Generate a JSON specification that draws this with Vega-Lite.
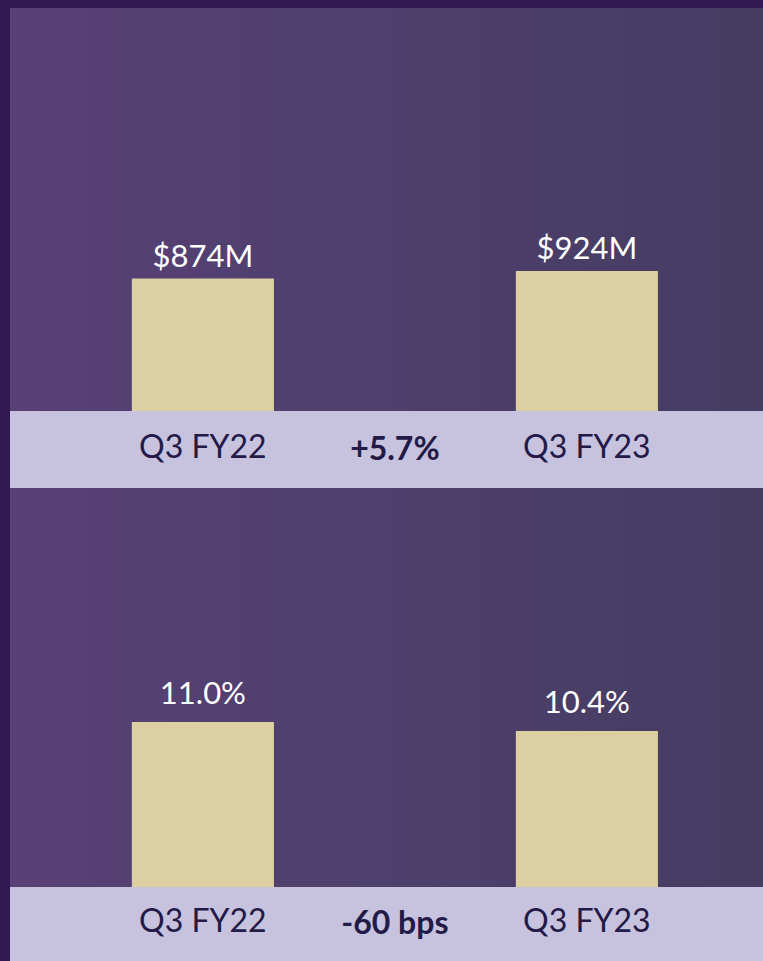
{
  "$schema": "https://vega.github.io/schema/vega-lite/v6.json",
  "background": "#311A53",
  "padding": {"left": 10, "top": 8, "right": 0, "bottom": 0},
  "spacing": 0,
  "config": {
    "view": {
      "stroke": null,
      "fill": {"gradient": "linear", "x1": 0, "y1": 0, "x2": 1, "y2": 0,
        "stops": [
          {"offset": 0, "color": "#594075"},
          {"offset": 0.5, "color": "#4D406C"},
          {"offset": 1, "color": "#463C62"}
        ]}
    },
    "font": "Lato",
    "concat": {"spacing": 0}
  },
  "datasets": {
    "revenue": [
      {"period": "Q3 FY22", "value": 874, "label": "$874M"},
      {"period": "Q3 FY23", "value": 924, "label": "$924M"}
    ],
    "revenue_band": [
      {"slot": "Q3 FY22", "text": "Q3 FY22", "kind": "period"},
      {"slot": "change", "text": "+5.7%", "kind": "change"},
      {"slot": "Q3 FY23", "text": "Q3 FY23", "kind": "period"}
    ],
    "margin": [
      {"period": "Q3 FY22", "value": 11.0, "label": "11.0%"},
      {"period": "Q3 FY23", "value": 10.4, "label": "10.4%"}
    ],
    "margin_band": [
      {"slot": "Q3 FY22", "text": "Q3 FY22", "kind": "period"},
      {"slot": "change", "text": "-60 bps", "kind": "change"},
      {"slot": "Q3 FY23", "text": "Q3 FY23", "kind": "period"}
    ]
  },
  "vconcat": [
    {
      "width": 753,
      "height": 403,
      "data": {"name": "revenue"},
      "encoding": {
        "x": {
          "field": "period", "type": "nominal", "axis": null,
          "scale": {"type": "band", "domain": ["Q3 FY22", "change", "Q3 FY23"], "paddingInner": 0.26, "paddingOuter": 0.591, "align": 0.537}
        },
        "y": {"field": "value", "type": "quantitative", "scale": {"domain": [0, 2660]}, "axis": null}
      },
      "layer": [
        {"mark": {"type": "bar", "color": "#DCCFA2"}},
        {"mark": {"type": "text", "baseline": "alphabetic", "dy": -12, "fontSize": 31, "color": "#FFFFFF"},
         "encoding": {"text": {"field": "label"}}}
      ]
    },
    {
      "width": 753,
      "height": 77,
      "view": {"fill": "#C7C2DD", "stroke": null},
      "data": {"name": "revenue_band"},
      "encoding": {
        "x": {
          "field": "slot", "type": "nominal", "axis": null,
          "scale": {"type": "band", "domain": ["Q3 FY22", "change", "Q3 FY23"], "paddingInner": 0.26, "paddingOuter": 0.591, "align": 0.537}
        },
        "text": {"field": "text"}
      },
      "layer": [
        {"transform": [{"filter": "datum.kind === 'period'"}],
         "mark": {"type": "text", "baseline": "middle", "dy": -2, "fontSize": 32, "color": "#231A47"}},
        {"transform": [{"filter": "datum.kind === 'change'"}],
         "mark": {"type": "text", "baseline": "middle", "dy": 0, "fontSize": 32, "fontWeight": "bold", "color": "#231A47"}}
      ]
    },
    {
      "width": 753,
      "height": 399,
      "data": {"name": "margin"},
      "encoding": {
        "x": {
          "field": "period", "type": "nominal", "axis": null,
          "scale": {"type": "band", "domain": ["Q3 FY22", "change", "Q3 FY23"], "paddingInner": 0.26, "paddingOuter": 0.591, "align": 0.537}
        },
        "y": {"field": "value", "type": "quantitative", "scale": {"domain": [0, 26.6]}, "axis": null}
      },
      "layer": [
        {"mark": {"type": "bar", "color": "#DCCFA2"}},
        {"mark": {"type": "text", "baseline": "alphabetic", "dy": -18, "fontSize": 31, "color": "#FFFFFF"},
         "encoding": {"text": {"field": "label"}}}
      ]
    },
    {
      "width": 753,
      "height": 74,
      "view": {"fill": "#C7C2DD", "stroke": null},
      "data": {"name": "margin_band"},
      "encoding": {
        "x": {
          "field": "slot", "type": "nominal", "axis": null,
          "scale": {"type": "band", "domain": ["Q3 FY22", "change", "Q3 FY23"], "paddingInner": 0.26, "paddingOuter": 0.591, "align": 0.537}
        },
        "text": {"field": "text"}
      },
      "layer": [
        {"transform": [{"filter": "datum.kind === 'period'"}],
         "mark": {"type": "text", "baseline": "middle", "dy": -2, "fontSize": 32, "color": "#231A47"}},
        {"transform": [{"filter": "datum.kind === 'change'"}],
         "mark": {"type": "text", "baseline": "middle", "dy": 0, "fontSize": 32, "fontWeight": "bold", "color": "#231A47"}}
      ]
    }
  ]
}
